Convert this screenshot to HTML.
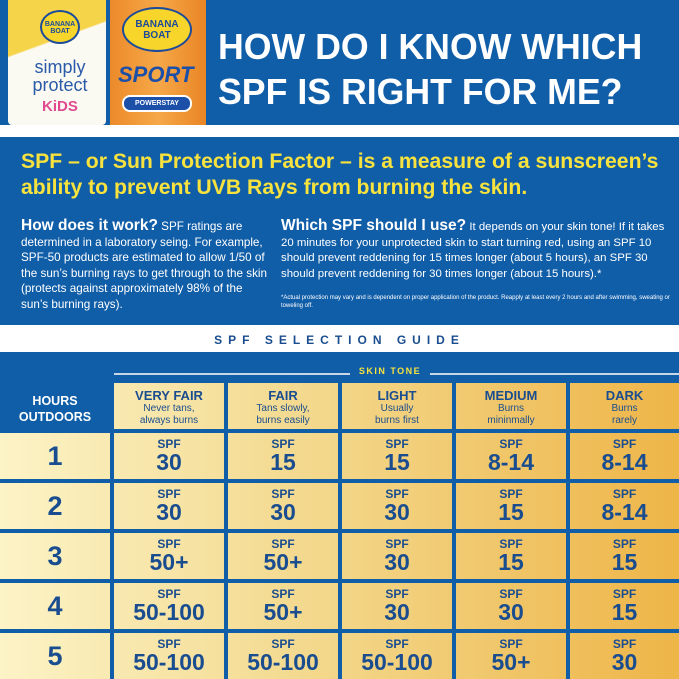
<!DOCTYPE html>
<html><head><meta charset="utf-8"><style>
*{margin:0;padding:0;box-sizing:border-box}
body{width:679px;height:679px;overflow:hidden;background:#fff;font-family:"Liberation Sans","DejaVu Sans",sans-serif;position:relative}
.a{position:absolute}
.blue{background:#115ea8}
.t{color:#fff;font-weight:900;font-size:35.7px;line-height:45px;left:218px;top:25px;white-space:nowrap}
.y{color:#f7e23e;font-weight:bold}
.w{color:#fff;font-size:11.7px;line-height:15.5px}
.w b{font-size:15.5px}
.c{text-align:center;color:#1a4d8f;background:linear-gradient(90deg,#fcf3c6,#f3d98e 45%,#eeb548);background-size:679px 100%}
.h b{display:block;font-size:13px;margin-top:5px}
.h span{font-size:10px;line-height:12px;display:block}
.s b{display:block;font-size:12px;margin-top:5px;line-height:12px}
.s span{display:block;font-size:23px;font-weight:900;line-height:25px}
.n{font-size:27px;font-weight:900;line-height:46px;color:#1a4d8f}
</style></head><body>
<div class="a blue" style="left:0;top:0;width:679px;height:125px"></div>
<div class="a" style="left:8px;top:0;width:98px;height:125px;background:linear-gradient(160deg,#f6d44a 0 35%,#fbfaf2 36%);border-radius:0 0 4px 4px"></div>
<div class="a" style="left:110px;top:0;width:96px;height:125px;background:linear-gradient(90deg,#ec8a2a,#f6a848 50%,#e98525)"></div>
<div class="a" style="left:40px;top:10px;width:40px;height:34px;border-radius:50%;background:#f7d52a;border:2px solid #1b4b9a;font-size:7px;font-weight:bold;color:#1b4b9a;text-align:center;padding-top:9px">BANANA BOAT</div>
<div class="a" style="left:122px;top:7px;width:70px;height:45px;border-radius:50%;background:#f7d52a;border:2px solid #1b4b9a;font-size:10px;font-weight:bold;color:#1b4b9a;text-align:center;padding-top:10px">BANANA BOAT</div>
<div class="a" style="left:30px;top:58px;font-size:18px;color:#2a5aa8;line-height:18px;text-align:center;width:60px">simply protect</div>
<div class="a" style="left:42px;top:98px;font-size:15px;font-weight:bold;color:#e04a90">KiDS</div>
<div class="a" style="left:118px;top:62px;font-size:22px;font-weight:900;font-style:italic;color:#1c4fa8">SPORT</div>
<div class="a" style="left:122px;top:95px;width:70px;height:17px;border-radius:8px;background:#1c4fa8;border:2px solid #fff;font-size:7px;color:#fff;text-align:center;font-weight:bold;line-height:13px">POWERSTAY</div>
<div class="a t">HOW DO I KNOW WHICH<br>SPF IS RIGHT FOR ME?</div>
<div class="a blue" style="left:0;top:137px;width:679px;height:188px"></div>
<div class="a y" style="left:21px;top:149px;font-size:21.2px;line-height:26px;white-space:nowrap">SPF – or Sun Protection Factor – is a measure of a sunscreen’s<br>ability to prevent UVB Rays from burning the skin.</div>
<div class="a w" style="left:21px;top:218px;width:250px"><b>How does it work?</b> SPF ratings are determined in a laboratory seing. For example, SPF-50 products are estimated to allow 1/50 of the sun’s burning rays to get through to the skin (protects against approximately 98% of the sun’s burning rays).</div>
<div class="a w" style="left:281px;top:218px;width:394px;font-size:11.4px"><b>Which SPF should I use?</b> It depends on your skin tone! If it takes 20 minutes for your unprotected skin to start turning red, using an SPF 10 should prevent reddening for 15 times longer (about 5 hours), an SPF 30 should prevent reddening for 30 times longer (about 15 hours).*</div>
<div class="a w" style="left:281px;top:294px;font-size:6px;line-height:8px;width:390px">*Actual protection may vary and is dependent on proper application of the product. Reapply at least every 2 hours and after swimming, sweating or toweling off.</div>
<div class="a" style="left:0;top:333px;width:679px;text-align:center;font-size:12px;font-weight:bold;letter-spacing:6px;color:#1a4d8f">SPF SELECTION GUIDE</div>
<div class="a blue" style="left:0;top:352px;width:679px;height:327px"></div>
<div class="a" style="left:114px;top:373px;width:565px;height:2px;background:#c9d6e6"></div>
<div class="a" style="left:350px;top:364px;width:80px;height:14px;background:#115ea8;color:#f7e23e;font-size:9px;font-weight:bold;letter-spacing:1.5px;text-align:center;line-height:14px">SKIN TONE</div>
<div class="a" style="left:0;top:393px;width:110px;text-align:center;color:#fff;font-weight:900;font-size:12.5px;line-height:16px">HOURS<br>OUTDOORS</div>
<div id="g"></div>
<script>
var cols=[114,228,342,456,570],cw=[110,110,110,110,109];
var hd=[["VERY FAIR","Never tans,","always burns"],["FAIR","Tans slowly,","burns easily"],["LIGHT","Usually","burns first"],["MEDIUM","Burns","mininmally"],["DARK","Burns","rarely"]];
var v=[["30","15","15","8-14","8-14"],["30","30","30","15","8-14"],["50+","50+","30","15","15"],["50-100","50+","30","30","15"],["50-100","50-100","50-100","50+","30"]];
var rows=[433,483,533,583,633],h="";
for(var i=0;i<5;i++)h+='<div class="a c h" style="left:'+cols[i]+'px;top:383px;width:'+cw[i]+'px;height:46px;background-position:-'+cols[i]+'px 0"><b>'+hd[i][0]+'</b><span>'+hd[i][1]+'</span><span>'+hd[i][2]+'</span></div>';
for(var r=0;r<5;r++){var hh=46;
h+='<div class="a c n" style="left:0;top:'+rows[r]+'px;width:110px;height:'+hh+'px">'+(r+1)+'</div>';
for(var i=0;i<5;i++)h+='<div class="a c s" style="left:'+cols[i]+'px;top:'+rows[r]+'px;width:'+cw[i]+'px;height:'+hh+'px;background-position:-'+cols[i]+'px 0"><b>SPF</b><span>'+v[r][i]+'</span></div>';}
document.getElementById('g').innerHTML=h;
</script>
</body></html>
